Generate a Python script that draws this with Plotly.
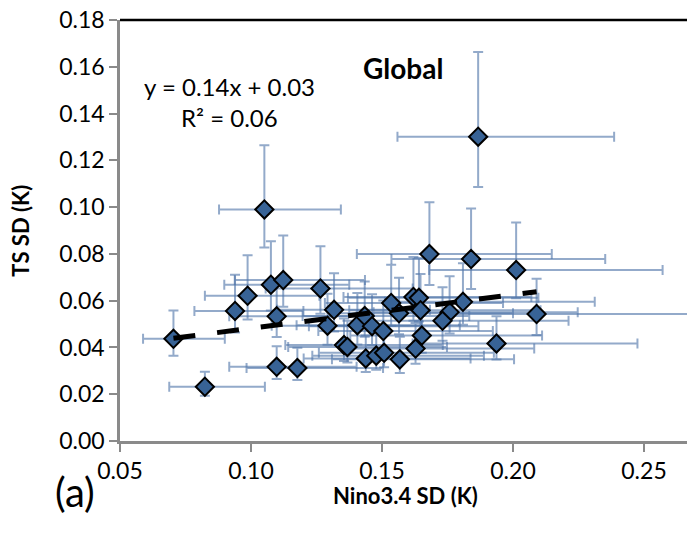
import numpy as np
import plotly.graph_objects as go

# Nino3.4 SD (K) and TS SD (K) per model
nino_sd = [0.0704, 0.0824, 0.1051, 0.0939, 0.0987, 0.1076, 0.1123, 0.1098, 0.1098, 0.1177,
           0.1265, 0.1317, 0.1292, 0.1355, 0.1368, 0.1406, 0.1434, 0.1462, 0.1505, 0.1438,
           0.1478, 0.1508, 0.1535, 0.1565, 0.1568, 0.1620, 0.1641, 0.1647, 0.1681, 0.1840,
           0.2012, 0.1809, 0.1758, 0.1731, 0.1652, 0.1628, 0.2090, 0.1937, 0.1867]
ts_sd = [0.0437, 0.0232, 0.0990, 0.0556, 0.0621, 0.0668, 0.0688, 0.0533, 0.0317, 0.0312,
         0.0652, 0.0561, 0.0493, 0.0410, 0.0402, 0.0495, 0.0534, 0.0491, 0.0470, 0.0353,
         0.0365, 0.0377, 0.0590, 0.0546, 0.0349, 0.0616, 0.0612, 0.0559, 0.0799, 0.0778,
         0.0731, 0.0595, 0.0551, 0.0514, 0.0451, 0.0395, 0.0543, 0.0417, 0.1301]

# error bar half-widths (upper / lower)
nino_err_plus = [0.0196, 0.0229, 0.0292, 0.0261, 0.0274, 0.0299, 0.0312, 0.0305, 0.0305, 0.0327,
                 0.0352, 0.0366, 0.0359, 0.0377, 0.0380, 0.0391, 0.0399, 0.0406, 0.0418, 0.0400,
                 0.0411, 0.0419, 0.0427, 0.0435, 0.0436, 0.0450, 0.0456, 0.0458, 0.0467, 0.0512,
                 0.0559, 0.0503, 0.0489, 0.0481, 0.0459, 0.0453, 0.0581, 0.0538, 0.0519]
nino_err_minus = [0.0116, 0.0136, 0.0173, 0.0155, 0.0163, 0.0178, 0.0185, 0.0181, 0.0181, 0.0194,
                  0.0209, 0.0217, 0.0213, 0.0224, 0.0226, 0.0232, 0.0237, 0.0241, 0.0248, 0.0237,
                  0.0244, 0.0249, 0.0253, 0.0258, 0.0259, 0.0267, 0.0271, 0.0272, 0.0277, 0.0304,
                  0.0332, 0.0298, 0.0290, 0.0286, 0.0273, 0.0269, 0.0345, 0.0320, 0.0308]
ts_err_plus = [0.0121, 0.0064, 0.0275, 0.0155, 0.0173, 0.0186, 0.0191, 0.0148, 0.0088, 0.0087,
               0.0181, 0.0156, 0.0137, 0.0114, 0.0112, 0.0138, 0.0148, 0.0136, 0.0131, 0.0098,
               0.0101, 0.0105, 0.0164, 0.0152, 0.0097, 0.0171, 0.0170, 0.0155, 0.0222, 0.0216,
               0.0203, 0.0165, 0.0153, 0.0143, 0.0125, 0.0110, 0.0151, 0.0116, 0.0362]
ts_err_minus = [0.0072, 0.0038, 0.0163, 0.0092, 0.0102, 0.0110, 0.0114, 0.0088, 0.0052, 0.0051,
                0.0108, 0.0093, 0.0081, 0.0068, 0.0066, 0.0082, 0.0088, 0.0081, 0.0078, 0.0058,
                0.0060, 0.0062, 0.0097, 0.0090, 0.0058, 0.0102, 0.0101, 0.0092, 0.0132, 0.0128,
                0.0121, 0.0098, 0.0091, 0.0085, 0.0074, 0.0065, 0.0090, 0.0069, 0.0215]

x_ticks = [0.05, 0.10, 0.15, 0.20, 0.25]
y_ticks = [0.00, 0.02, 0.04, 0.06, 0.08, 0.10, 0.12, 0.14, 0.16, 0.18]

FONT = "Lato"
err_col = "rgba(80,118,170,0.62)"

x = np.array(nino_sd)
y = np.array(ts_sd)
slope, intercept = np.polyfit(x, y, 1)
x_fit = np.array([x.min(), x.max()])
y_fit = slope * x_fit + intercept

fig = go.Figure()
fig.add_trace(go.Scatter(
    x=nino_sd, y=ts_sd, mode="markers",
    marker=dict(size=13, opacity=0),
    error_x=dict(type="data", symmetric=False, array=nino_err_plus, arrayminus=nino_err_minus,
                 color=err_col, thickness=2, width=5),
    error_y=dict(type="data", symmetric=False, array=ts_err_plus, arrayminus=ts_err_minus,
                 color=err_col, thickness=2, width=5),
    hoverinfo="skip", showlegend=False))
fig.add_trace(go.Scatter(
    x=nino_sd, y=ts_sd, mode="markers",
    marker=dict(symbol="diamond", size=14, color="#386396",
                line=dict(color="black", width=2)),
    showlegend=False))
fig.add_trace(go.Scatter(
    x=x_fit, y=y_fit, mode="lines",
    line=dict(color="black", width=5, dash="22px,22px"),
    showlegend=False))

L, T, B = 120, 20, 95
W, H = 687, 536
pw = W - L
xmax = 0.05 + pw / 131.0 * 0.05

fig.update_layout(
    width=W, height=H,
    margin=dict(l=L, r=0, t=T, b=B, autoexpand=False),
    plot_bgcolor="white", paper_bgcolor="white",
    font=dict(family=FONT, size=20, color="black"),
    xaxis=dict(range=[0.05, xmax], tickvals=x_ticks, ticktext=[f"{v:.2f}" for v in x_ticks],
               showgrid=False, zeroline=False, showline=True, linecolor="#8a8a8a", linewidth=2.5,
               ticks="outside", ticklen=8, tickwidth=2, tickcolor="#8a8a8a",
               tickfont=dict(size=23, family=FONT), automargin=False),
    yaxis=dict(range=[0, 0.18], tickvals=y_ticks, ticktext=[f"{v:.2f}" for v in y_ticks],
               showgrid=False, zeroline=False, showline=True, linecolor="#8a8a8a", linewidth=2.5,
               ticks="outside", ticklen=8, tickwidth=2, tickcolor="#8a8a8a",
               tickfont=dict(size=23, family=FONT), automargin=False),
    shapes=[dict(type="line", xref="paper", yref="paper", x0=0, x1=1, y0=1, y1=1,
                 line=dict(color="black", width=2.5))],
    annotations=[
        dict(text="<b>Nino3.4 SD (K)</b>", xref="paper", yref="paper", x=0.503, y=-0.129,
             showarrow=False, font=dict(size=22, family=FONT), xanchor="center", yanchor="middle"),
        dict(text="<b>TS SD (K)</b>", xref="paper", yref="paper", x=-0.176, y=0.50,
             showarrow=False, textangle=-90, font=dict(size=22, family=FONT),
             xanchor="center", yanchor="middle"),
        dict(text="(a)", xref="paper", yref="paper", x=-0.079, y=-0.12,
             showarrow=False, font=dict(size=40, family=FONT), xanchor="center", yanchor="middle"),
        dict(text="<b>Global</b>", xref="paper", yref="paper", x=0.499, y=0.887,
             showarrow=False, font=dict(size=28, family=FONT), xanchor="center", yanchor="middle"),
        dict(text="y = 0.14x + 0.03", xref="paper", yref="paper", x=0.194, y=0.842,
             showarrow=False, font=dict(size=24, family=FONT), xanchor="center", yanchor="middle"),
        dict(text="R² = 0.06", xref="paper", yref="paper", x=0.194, y=0.768,
             showarrow=False, font=dict(size=24, family=FONT), xanchor="center", yanchor="middle"),
    ],
)

# remove the page's default 8px body margin so the figure sits at the window origin
fig.write_html("out.html",
               config={"displayModeBar": False},
               post_script="document.body.style.margin='0';document.body.style.padding='0';")
